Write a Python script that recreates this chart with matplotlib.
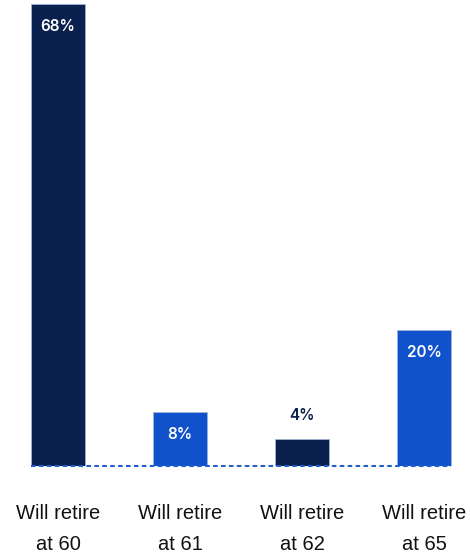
import matplotlib
matplotlib.use("Agg")
import matplotlib.pyplot as plt

# Share of respondents by planned retirement age
line1 = ["Will retire", "Will retire", "Will retire", "Will retire"]
line2 = ["at 60", "at 61", "at 62", "at 65"]
values = [68, 8, 4, 20]
labels = ["68%", "8%", "4%", "20%"]

NAVY = "#0a2150"
BLUE = "#1052cc"
colors = [NAVY, BLUE, NAVY, BLUE]

fig = plt.figure(figsize=(4.70, 5.57), dpi=100)
ax = fig.add_axes([0, 0.1634, 1, 0.8366])

x = range(len(values))
ax.bar(x, values, width=0.443, color=colors, edgecolor="#9fb3d6", linewidth=0.6)

# value labels: inside the bar when tall enough, otherwise above it
for i, (v, lab) in enumerate(zip(values, labels)):
    if v >= 8:
        ax.text(i, v - 3.3, lab, ha="center", va="center", color="white",
                fontsize=11, fontweight="semibold", family="Inter")
    else:
        ax.text(i, v + 3.4, lab, ha="center", va="center", color=NAVY,
                fontsize=11, fontweight="semibold", family="Inter")

# dotted baseline
ax.plot([-0.221, 3.221], [0, 0], color="#1f5fd0", linewidth=1.5,
        linestyle=(0, (2.2, 1.6)), solid_capstyle="butt", clip_on=False)

# two-line category labels under each bar
for i, (a, b) in enumerate(zip(line1, line2)):
    ax.text(i, -7.8, a, ha="center", va="baseline", fontsize=14.5,
            family="Liberation Sans", color="#111111")
    ax.text(i, -12.35, b, ha="center", va="baseline", fontsize=14.5,
            family="Liberation Sans", color="#111111")

ax.set_xlim(-0.475, 3.377)
ax.set_ylim(0, 68.63)
ax.axis("off")

fig.savefig("out.png", dpi=100)
